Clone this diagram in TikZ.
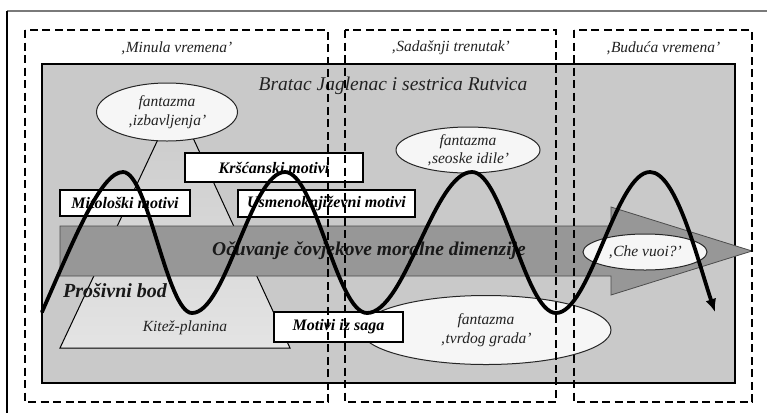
\documentclass[tikz,border=0pt]{standalone}
\usepackage{fontspec}
\setmainfont{Liberation Serif}
\usetikzlibrary{shapes.geometric,arrows.meta}
\definecolor{gbox}{HTML}{C9C9C9}
\definecolor{bandc}{HTML}{979797}
\definecolor{trilight}{HTML}{E4E4E4}
\definecolor{efill}{HTML}{F6F6F6}
\definecolor{frameg}{HTML}{7A7A7A}
\definecolor{txt}{HTML}{222222}
\begin{document}
\begin{tikzpicture}[x=1pt,y=-1pt,
  lbl/.style={font=\fontsize{15.5}{18.5}\selectfont\itshape, text=txt, inner sep=0pt},
  biglbl/.style={font=\fontsize{19.5}{22}\selectfont\itshape, text=txt, inner sep=0pt},
  boldlbl/.style={font=\fontsize{19.5}{22}\selectfont\bfseries\itshape, text=black!90, inner sep=0pt},
  motif/.style={draw, line width=1.5pt, fill=white, inner sep=0pt,
    font=\fontsize{16}{18}\selectfont\bfseries\itshape},
  fant/.style={ellipse, draw=black!85, line width=1pt, fill=efill, inner sep=0pt,
    align=center, font=\fontsize{15.5}{18.5}\selectfont\itshape, text=txt},
  timebox/.style={draw, line width=1.6pt, dash pattern=on 8pt off 4.5pt},
  wave/.style={line width=3.8pt, line cap=round, -{Latex[length=13pt,width=11pt]}}
]
\useasboundingbox (0,0) rectangle (767,413);
\fill[white] (0,0) rectangle (767,413);
% outer frame (top and left)
\draw[frameg, line width=2pt] (7,11) -- (767,11);
\draw[black, line width=1.6pt] (7,11) -- (7,413);
% main gray box
\draw[line width=1.6pt, fill=gbox] (42,64) rectangle (735,383);
% mountain triangle
\shade[top color=gbox, bottom color=trilight] (176,101) -- (60,348) -- (290,348) -- cycle;
\draw[line width=1pt] (176,101) -- (60,348) -- (290,348) -- cycle;
% band arrow
\draw[draw=black!70, line width=0.8pt, fill=bandc]
  (60,226) -- (611,226) -- (611,207) -- (752,251) -- (611,295) -- (611,276) -- (60,276) -- cycle;
% ellipses
\node[fant, minimum width=141pt, minimum height=58pt] (izb) at (167,112) {fantazma\\‚izbavljenja’};
\node[fant, minimum width=144pt, minimum height=46pt] (seo) at (468,150) {fantazma\\‚seoske idile’};
\node[fant, minimum width=250pt, minimum height=69pt] (tvr) at (486,330) {fantazma\\‚tvrdog grada’};
\node[fant, minimum width=124pt, minimum height=36pt] (che) at (645,252) {‚Che vuoi?’};
% motif boxes
\node[motif, minimum width=130pt, minimum height=26pt] (mit) at (125,203) {Mitološki motivi};
\node[motif, minimum width=178pt, minimum height=29pt] (krs) at (274,167.5) {Kršćanski motivi};
\node[motif, minimum width=177pt, minimum height=27pt] (usm) at (326.5,203.5) {Usmenoknjiževni motivi};
\node[motif, minimum width=129pt, minimum height=30pt] (saga) at (338.5,327) {Motivi iz saga};
% texts
\node[biglbl] (brat) at (393,86) {Bratac Jaglenac i sestrica Rutvica};
\node[boldlbl] (ocuv) at (369,251) {Očuvanje čovjekove moralne dimenzije};
\node[boldlbl, font=\fontsize{20}{22}\selectfont\bfseries\itshape] (pros) at (115,291) {Prošivni bod};
\node[lbl] (kit) at (185,328) {Kitež-planina};
\node[lbl] (minula) at (176.5,48) {‚Minula vremena’};
\node[lbl] (sada) at (450.5,48) {‚Sadašnji trenutak’};
\node[lbl] (budu) at (663,48) {‚Buduća vremena’};
% wave
\coordinate (w0) at (42,312);
\coordinate (wend) at (715,312);
\draw[wave] (w0) .. controls (75,237) and (101,172) .. (123,172)
  .. controls (148,172) and (167,313) .. (192,313)
  .. controls (226,313) and (251,172) .. (285,172)
  .. controls (315,172) and (337,313) .. (367,313)
  .. controls (405,313) and (434,172) .. (472,172)
  .. controls (503,172) and (525,313) .. (556,313)
  .. controls (590,313) and (616,172) .. (650,172)
  .. controls (676,172) and (697,258) .. (wend);
% time boxes
\draw[timebox] (25,30) rectangle (328,402);
\draw[timebox] (345,30) rectangle (556,402);
\draw[timebox] (574,30) rectangle (752,402);
\end{tikzpicture}
\end{document}
